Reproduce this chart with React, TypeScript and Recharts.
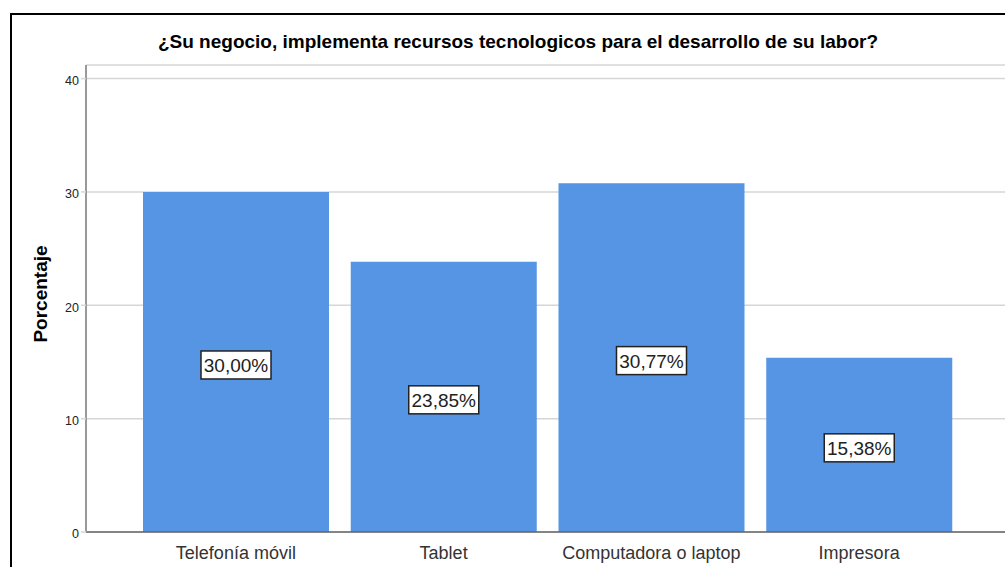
import { Bar, BarChart, CartesianGrid, LabelList, XAxis, YAxis } from "recharts";

const categorias = ["Telefonía móvil", "Tablet", "Computadora o laptop", "Impresora"];
const porcentajes = [30.0, 23.85, 30.77, 15.38];
const ticksY = [0, 10, 20, 30, 40];

const data = categorias.map((c, i) => ({ name: c, value: porcentajes[i] }));

const FONT = '"Liberation Sans", Arial, sans-serif';

function fmt(v: number) {
  return v.toFixed(2).replace(".", ",") + "%";
}

function BoxLabel(props: any) {
  const { x, y, width, height, value } = props;
  const cx = x + width / 2;
  const cy = y + height / 2 + 3;
  return (
    <g>
      <rect x={cx - 35} y={cy - 14} width={70} height={28} fill="#fff" stroke="#222" strokeWidth={1.5} />
      <text x={cx} y={cy + 1} textAnchor="middle" dominantBaseline="central" fontSize={19} fill="#222" fontFamily={FONT}>
        {fmt(value)}
      </text>
    </g>
  );
}

function YLabel() {
  return (
    <text
      x={28}
      y={279}
      transform="rotate(-90 28 279)"
      textAnchor="middle"
      dominantBaseline="central"
      fontSize={19}
      fontWeight="bold"
      fill="#000"
      fontFamily={FONT}
    >
      Porcentaje
    </text>
  );
}

export default function App() {
  return (
    <div style={{ position: "fixed", left: 0, top: 0, width: 1005, height: 567, overflow: "hidden", background: "#fff" }}>
      <div
        style={{
          position: "absolute",
          left: 10,
          top: 13,
          width: 1010,
          height: 570,
          borderLeft: "2px solid #000",
          borderTop: "2px solid #000",
        }}
      >
        <div
          style={{
            position: "absolute",
            left: 0,
            top: 16,
            width: 1012,
            textAlign: "center",
            fontFamily: FONT,
            fontWeight: "bold",
            fontSize: 19,
            lineHeight: "22px",
            color: "#000",
          }}
        >
          ¿Su negocio, implementa recursos tecnologicos para el desarrollo de su labor?
        </div>
        <BarChart width={1000} height={560} data={data} margin={{ top: 50, right: 3, bottom: 0, left: 0 }}>
          <CartesianGrid vertical={false} stroke="#d6d6d6" strokeWidth={1.5} />
          <XAxis
            dataKey="name"
            padding={{ left: 46, right: 46 }}
            stroke="#666"
            strokeWidth={1.5}
            tickLine={false}
            tickMargin={8}
            height={43}
            tick={{ fontSize: 18, fill: "#333", fontFamily: FONT }}
          />
          <YAxis
            domain={[0, 41.2]}
            ticks={ticksY}
            width={74}
            stroke="#999"
            strokeWidth={2}
            tickLine={{ stroke: "#d6d6d6", strokeWidth: 1.5 }}
            tickSize={5}
            tickMargin={2}
            tick={{ fontSize: 12.5, fill: "#222", fontFamily: FONT, dy: 2 }}
            label={YLabel}
            allowDataOverflow
          />
          <Bar dataKey="value" fill="#5595e4" barSize={186} isAnimationActive={false}>
            <LabelList dataKey="value" content={BoxLabel} />
          </Bar>
        </BarChart>
      </div>
    </div>
  );
}
